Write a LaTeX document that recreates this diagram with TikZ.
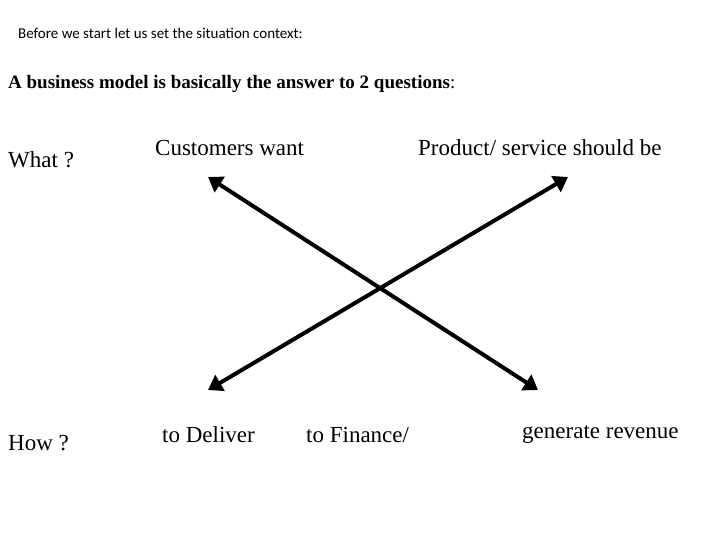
\documentclass[tikz,border=0pt]{standalone}
\usepackage{fontspec}
\setmainfont{Liberation Serif}
\newfontfamily\carlitofont{Carlito}
\usetikzlibrary{arrows.meta}
\begin{document}
\begin{tikzpicture}[x=1pt,y=-1pt,
 lbl/.style={anchor=west,inner sep=0pt,font=\fontsize{23}{26}\selectfont},
 arr/.style={line width=4pt,{Triangle[length=14pt,width=18pt]}-{Triangle[length=14pt,width=18pt]}}]
\useasboundingbox (0,0) rectangle (720,540);
\node[anchor=west,inner sep=0pt,font=\carlitofont\fontsize{15}{18}\selectfont] (t) at (18,33) {Before we start let us set the situation context:};
\node[anchor=west,inner sep=0pt,font=\fontsize{19}{22}\selectfont] (q) at (8,84) {\textbf{A business model is basically the answer to 2 questions}:};
\node[lbl] (what) at (8,160) {What ?};
\node[lbl] (cw) at (155,148) {Customers want};
\node[lbl] (ps) at (418,148) {Product/ service should be};
\node[lbl] (how) at (8,443) {How ?};
\node[lbl] (td) at (162,435) {to Deliver};
\node[lbl] (tf) at (306,435) {to Finance/};
\node[lbl] (gr) at (522,435) {generate revenue};
\coordinate (a1) at (208,177);
\coordinate (a2) at (538,390);
\coordinate (b1) at (568,177);
\coordinate (b2) at (208,390);
\draw[arr] (a1) -- (a2);
\draw[arr] (b1) -- (b2);
\end{tikzpicture}
\end{document}
